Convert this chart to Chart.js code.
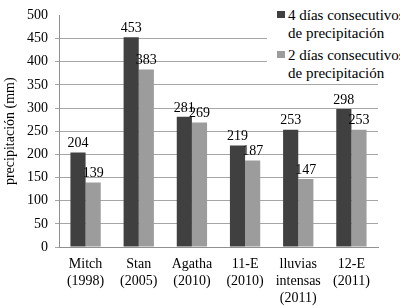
<!DOCTYPE html>
<html>
<head>
<meta charset="utf-8">
<script src="https://cdn.jsdelivr.net/npm/chart.js@4"></script>
<style>
  body { margin: 0; background: #fff; }
  #wrap { position: relative; width: 400px; height: 306px; }
  #legend {
    position: absolute; left: 267px; top: 0; width: 133px; height: 84px;
    background: #fff; font-family: "Liberation Serif", "Times New Roman", Times, serif; font-size: 15px; color: #000;
  }
  .item { position: absolute; left: 10px; }
  .item .box { position: absolute; left: 0; top: 5px; width: 8px; height: 7px; }
  .item .txt { position: absolute; left: 11px; top: 0; line-height: 18px; white-space: nowrap; }
</style>
</head>
<body>
<div id="wrap">
  <canvas id="chart" width="400" height="306"></canvas>
  <div id="legend"></div>
</div>
<script>
// categories and values
const categories = [
  ["Mitch", "(1998)"],
  ["Stan", "(2005)"],
  ["Agatha", "(2010)"],
  ["11-E", "(2010)"],
  ["lluvias", "intensas", "(2011)"],
  ["12-E", "(2011)"]
];
const cuatroDias = [204, 453, 281, 219, 253, 298];
const dosDias = [139, 383, 269, 187, 147, 253];
const seriesNames = [
  ["4 días consecutivos", "de precipitación"],
  ["2 días consecutivos", "de precipitación"]
];
const yTicks = [0, 50, 100, 150, 200, 250, 300, 350, 400, 450, 500];

const font = "'Liberation Serif', 'Times New Roman', Times, serif";
const colors = ["#404040", "#9c9c9c"];

// value labels above each bar
const valueLabels = {
  id: "valueLabels",
  afterDatasetsDraw(chart) {
    const ctx = chart.ctx;
    ctx.save();
    ctx.font = "14px " + font;
    ctx.fillStyle = "#000";
    ctx.textAlign = "center";
    ctx.textBaseline = "bottom";
    chart.data.datasets.forEach((ds, i) => {
      chart.getDatasetMeta(i).data.forEach((bar, j) => {
        ctx.fillText(ds.data[j], bar.x, bar.y - 2);
      });
    });
    ctx.restore();
  }
};

new Chart(document.getElementById("chart"), {
  type: "bar",
  data: {
    labels: categories,
    datasets: [
      { label: seriesNames[0].join(" "), data: cuatroDias, backgroundColor: colors[0] },
      { label: seriesNames[1].join(" "), data: dosDias, backgroundColor: colors[1] }
    ]
  },
  options: {
    responsive: false,
    animation: false,
    events: [],
    layout: { padding: { top: 8, right: 22, left: 0, bottom: 0 } },
    datasets: { bar: { categoryPercentage: 0.57, barPercentage: 1.0 } },
    plugins: { legend: { display: false }, tooltip: { enabled: false } },
    scales: {
      x: {
        grid: { display: false, drawTicks: false },
        border: { color: "#909090" },
        ticks: { color: "#000", font: { family: font, size: 14, lineHeight: 1.2 }, padding: 9, maxRotation: 0, autoSkip: false },
        afterFit: (s) => { s.height = 59; }
      },
      y: {
        min: 0, max: 500,
        afterBuildTicks: (s) => { s.ticks = yTicks.map((v) => ({ value: v })); },
        grid: {
          color: (c) => (c.tick && c.tick.value === 500 ? "rgba(0,0,0,0)" : "#a6a6a6"),
          tickLength: 4
        },
        border: { color: "#909090" },
        ticks: { color: "#000", font: { family: font, size: 14 }, padding: 7 },
        title: {
          display: true, text: "precipitación (mm)", color: "#000",
          font: { family: font, size: 14 }, padding: { top: 2, bottom: 0 }
        },
        afterFit: (s) => { s.width = 59; }
      }
    }
  },
  plugins: [valueLabels]
});

// legend as html text
const legend = document.getElementById("legend");
const tops = [6, 46];
seriesNames.forEach((lines, i) => {
  const item = document.createElement("div");
  item.className = "item";
  item.style.top = tops[i] + "px";
  item.innerHTML = '<div class="box" style="background:' + colors[i] + '"></div>' +
    '<div class="txt">' + lines.join("<br>") + "</div>";
  legend.appendChild(item);
});
</script>
</body>
</html>
